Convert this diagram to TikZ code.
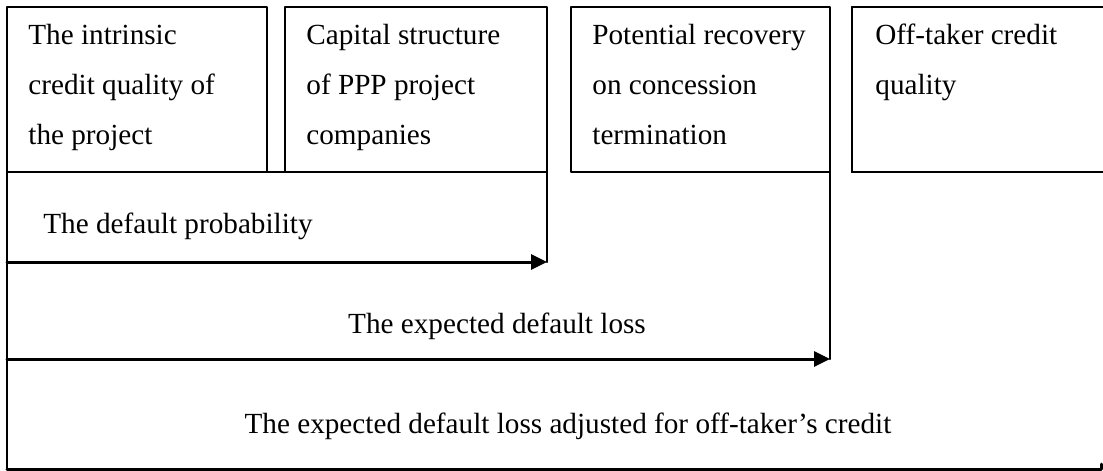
\documentclass[tikz,border=0pt]{standalone}
\usepackage{fontspec}
\setmainfont{Liberation Serif}
\usepackage{tkz-euclide}
\usetikzlibrary{arrows.meta}

\tikzset{
  boxline/.style={line width=1.1pt},
  flowline/.style={line width=1.5pt,-{Triangle[length=8pt,width=7.5pt]}},
  boxtext/.style={font=\fontsize{14.6}{25}\selectfont,inner sep=0pt,align=left,anchor=base west},
}

\begin{document}
\begin{tikzpicture}[x=0.5pt,y=-0.5pt]
    \useasboundingbox (0,0) rectangle (1103,471);
    % the four boxes on top
    \tkzDefPoint(7,7){a_1}
    \tkzDefPoint(267,7){a_2}
    \tkzDefPoint(267,172){a_3}
    \tkzDefPoint(7,172){a_4}
    \tkzDefPoint(285,7){b_1}
    \tkzDefPoint(547,7){b_2}
    \tkzDefPoint(547,172){b_3}
    \tkzDefPoint(285,172){b_4}
    \tkzDefPoint(571,7){c_1}
    \tkzDefPoint(830,7){c_2}
    \tkzDefPoint(830,172){c_3}
    \tkzDefPoint(571,172){c_4}
    \tkzDefPoint(852,7){d_1}
    \tkzDefPoint(1103,7){d_2}
    \tkzDefPoint(1103,172){d_3}
    \tkzDefPoint(852,172){d_4}
    \tkzDrawPolygon[boxline](a_1,a_2,a_3,a_4)
    \tkzDrawPolygon[boxline](b_1,b_2,b_3,b_4)
    \tkzDrawPolygon[boxline](c_1,c_2,c_3,c_4)
    \tkzDrawSegments[boxline](d_1,d_2 d_1,d_4 d_4,d_3)

    % the nested levels below
    \tkzDefPoint(7,262){p_1}
    \tkzDefPoint(547,262){p_2}
    \tkzDefPoint(7,359){l_1}
    \tkzDefPoint(830,359){l_2}
    \tkzDefPoint(7,469){q_1}
    \tkzDefPoint(1101,469){q_2}
    \tkzDefPoint(1101,464){q_3}
    \tkzDrawSegments[boxline](a_4,b_3 b_3,p_2 c_3,l_2 a_4,q_1)
    \tkzDrawSegments[flowline](p_1,p_2 l_1,l_2)
    \tkzDrawSegments[line width=1.5pt](q_1,q_2 q_2,q_3)

    \node[boxtext] (intrinsic) at (28,144) {The intrinsic\\credit quality of\\the project};
    \node[boxtext] (capital) at (306,144) {Capital structure\\of PPP project\\companies};
    \node[boxtext] (recovery) at (592,144) {Potential recovery\\on concession\\termination};
    \node[boxtext] (offtaker) at (875,94) {Off-taker credit\\quality};
    \node[boxtext] (probability) at (43,233) {The default probability};
    \node[boxtext,anchor=base] (loss) at (497,333) {The expected default loss};
    \node[boxtext,anchor=base] (adjusted) at (568,433) {The expected default loss adjusted for off-taker’s credit};
\end{tikzpicture}
\end{document}
